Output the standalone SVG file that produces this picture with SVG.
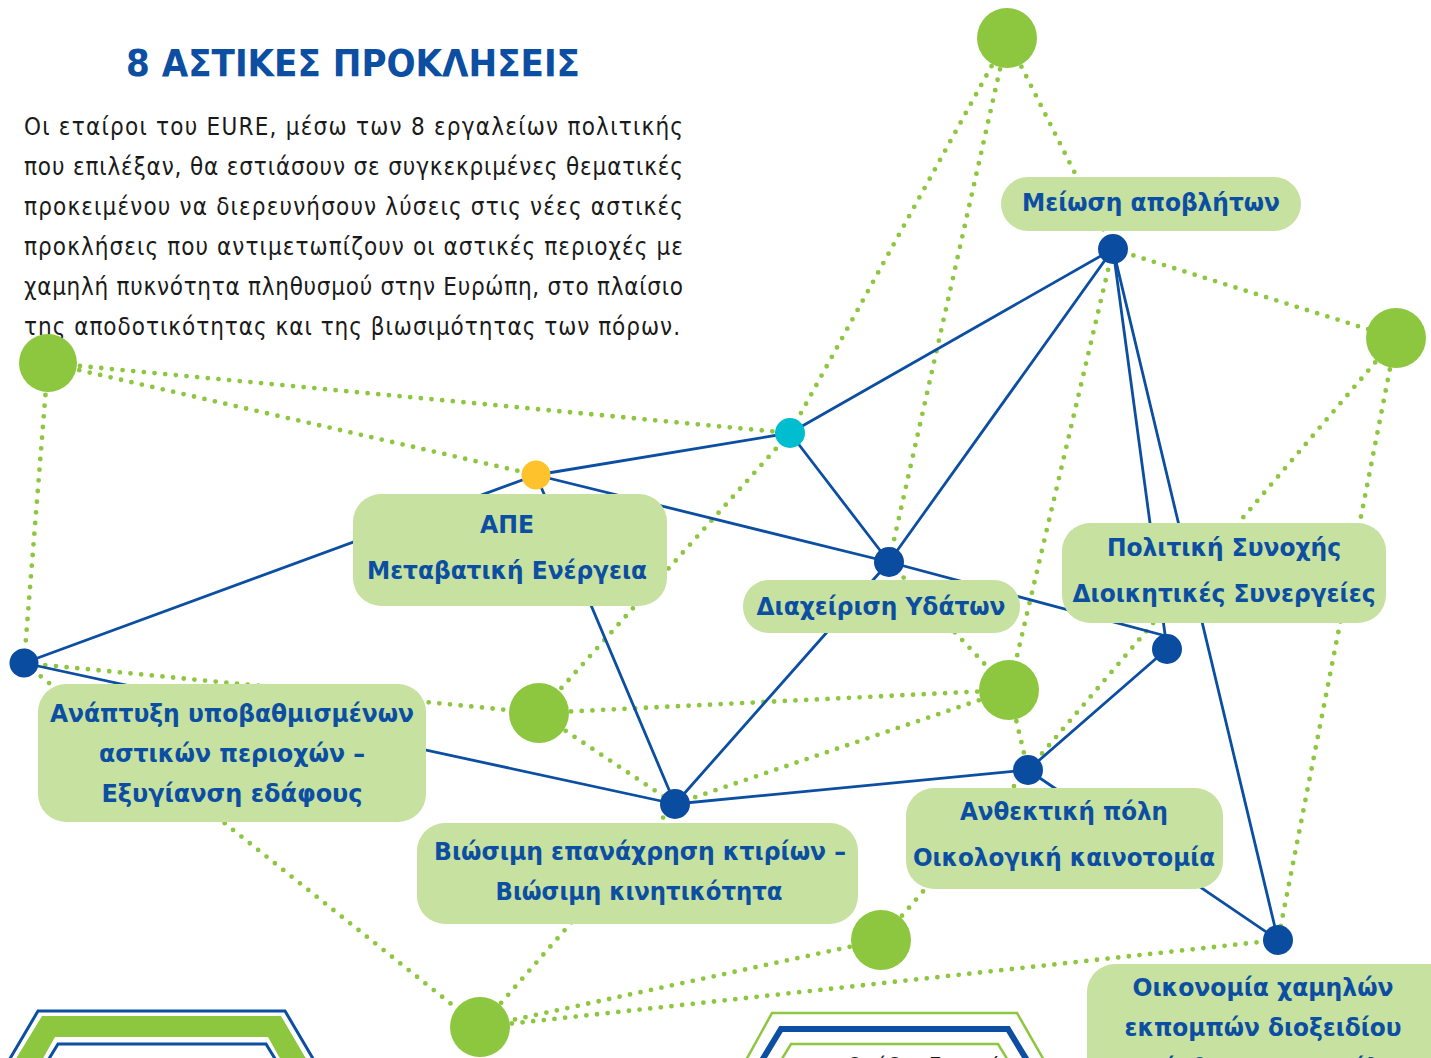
<svg xmlns="http://www.w3.org/2000/svg" width="1431" height="1058" viewBox="0 0 1431 1058">
<style>
  text { font-family: 'DejaVu Sans Condensed', 'DejaVu Sans', sans-serif; font-stretch: condensed; }
  .title { font-size: 37px; font-weight: bold; fill: #0b4ea2; }
  .para { font-size: 24px; fill: #1a1a1a; }
  .lbl { font-size: 24px; font-weight: bold; fill: #0b4ea2; text-anchor: middle; }
  .box { fill: #c6e1a0; }
  .solid line { stroke: #0b4ea2; stroke-width: 2.8; stroke-linecap: round; }
  .dots line { stroke: #8dc63f; stroke-width: 4.8; stroke-linecap: round; stroke-dasharray: 0 10.7; }
  .hub { fill: #0a4ca0; }
  .big { fill: #8dc63f; }
</style>
<rect width="1431" height="1058" fill="#ffffff"/>

<g id="title-block">
  <text class="title" x="126" y="76" textLength="454" lengthAdjust="spacingAndGlyphs">8 ΑΣΤΙΚΕΣ ΠΡΟΚΛΗΣΕΙΣ</text>
  <text class="para" x="24" y="135" textLength="659" lengthAdjust="spacing">Οι εταίροι του EURE, μέσω των 8 εργαλείων πολιτικής</text>
  <text class="para" x="24" y="175" textLength="659" lengthAdjust="spacing">που επιλέξαν, θα εστιάσουν σε συγκεκριμένες θεματικές</text>
  <text class="para" x="24" y="215" textLength="659" lengthAdjust="spacing">προκειμένου να διερευνήσουν λύσεις στις νέες αστικές</text>
  <text class="para" x="24" y="255" textLength="659" lengthAdjust="spacing">προκλήσεις που αντιμετωπίζουν οι αστικές περιοχές με</text>
  <text class="para" x="24" y="295" textLength="659" lengthAdjust="spacing">χαμηλή πυκνότητα πληθυσμού στην Ευρώπη, στο πλαίσιο</text>
  <text class="para" x="24" y="335" textLength="656" lengthAdjust="spacing">της αποδοτικότητας και της βιωσιμότητας των πόρων.</text>
</g>

<g id="hexagons">
  <g id="hex-left">
    <polyline points="8,1062 38,1011 285,1011 315,1062" fill="none" stroke="#0b4ea2" stroke-width="3"/>
    <path d="M14,1062 L42,1016 L281,1016 L308,1062 L282,1062 L268,1037 L55,1037 L41,1062 Z" fill="#8dc63f"/>
    <polyline points="47,1062 58,1044 266,1044 277,1062" fill="none" stroke="#0b4ea2" stroke-width="3"/>
  </g>
  <g id="hex-middle">
    <polyline points="745,1062 772,1013 1017,1013 1045,1062" fill="none" stroke="#8dc63f" stroke-width="2.5"/>
    <polyline points="761,1062 781,1029 1008,1029 1028,1062" fill="none" stroke="#0b4ea2" stroke-width="6"/>
    <polyline points="780,1062 791,1044 998,1044 1009,1062" fill="none" stroke="#8dc63f" stroke-width="2.5"/>
    <text x="847" y="1073" style="font-size:22px; fill:#1a1a1a;">Ομάδες Εργασίας</text>
  </g>
</g>

<g id="connectors">
  <g class="dots">
    <line x1="1007" y1="38" x2="790" y2="433"/>
    <line x1="1007" y1="38" x2="889" y2="562"/>
    <line x1="1007" y1="38" x2="1113" y2="249"/>
    <line x1="1113" y1="249" x2="1396" y2="338"/>
    <line x1="1113" y1="249" x2="1009" y2="690"/>
    <line x1="889" y1="562" x2="1009" y2="690"/>
    <line x1="1009" y1="690" x2="1028" y2="770"/>
    <line x1="1396" y1="338" x2="1028" y2="770"/>
    <line x1="1396" y1="338" x2="1278" y2="940"/>
    <line x1="48" y1="363" x2="790" y2="433"/>
    <line x1="48" y1="363" x2="536" y2="475"/>
    <line x1="48" y1="363" x2="24" y2="663"/>
    <line x1="24" y1="663" x2="539" y2="713"/>
    <line x1="24" y1="663" x2="480" y2="1027"/>
    <line x1="790" y1="433" x2="539" y2="713"/>
    <line x1="539" y1="713" x2="1009" y2="690"/>
    <line x1="539" y1="713" x2="675" y2="804"/>
    <line x1="675" y1="804" x2="1009" y2="690"/>
    <line x1="881" y1="940" x2="1028" y2="770"/>
    <line x1="881" y1="940" x2="480" y2="1027"/>
    <line x1="480" y1="1027" x2="1278" y2="940"/>
    <line x1="480" y1="1027" x2="675" y2="804"/>
  </g>
  <g class="solid">
    <line x1="536" y1="475" x2="790" y2="433"/>
    <line x1="790" y1="433" x2="1113" y2="249"/>
    <line x1="790" y1="433" x2="889" y2="562"/>
    <line x1="536" y1="475" x2="889" y2="562"/>
    <line x1="889" y1="562" x2="1166" y2="636"/>
    <line x1="1113" y1="249" x2="889" y2="562"/>
    <line x1="1113" y1="249" x2="1167" y2="649"/>
    <line x1="1113" y1="249" x2="1278" y2="940"/>
    <line x1="24" y1="663" x2="536" y2="475"/>
    <line x1="536" y1="475" x2="675" y2="804"/>
    <line x1="24" y1="663" x2="675" y2="804"/>
    <line x1="675" y1="804" x2="1028" y2="770"/>
    <line x1="675" y1="804" x2="889" y2="562"/>
    <line x1="1028" y1="770" x2="1167" y2="649"/>
    <line x1="1028" y1="770" x2="1278" y2="940"/>
  </g>
</g>

<g id="node-meiosi">
  <rect class="box" x="1001" y="177" width="300" height="54" rx="27"/>
  <text class="lbl" x="1151" y="211" textLength="258" lengthAdjust="spacingAndGlyphs">Μείωση αποβλήτων</text>
</g>
<g id="node-ape">
  <rect class="box" x="353" y="494" width="314" height="112" rx="28"/>
  <text class="lbl" x="507" y="533" textLength="54" lengthAdjust="spacingAndGlyphs">ΑΠΕ</text>
  <text class="lbl" x="507" y="579" textLength="280" lengthAdjust="spacingAndGlyphs">Μεταβατική Ενέργεια</text>
</g>
<g id="node-ydata">
  <rect class="box" x="743" y="580" width="277" height="53" rx="26"/>
  <text class="lbl" x="881" y="615" textLength="249" lengthAdjust="spacingAndGlyphs">Διαχείριση Υδάτων</text>
</g>
<g id="node-synoxi">
  <rect class="box" x="1062" y="523" width="324" height="100" rx="28"/>
  <text class="lbl" x="1224" y="556" textLength="234" lengthAdjust="spacingAndGlyphs">Πολιτική Συνοχής</text>
  <text class="lbl" x="1224" y="602" textLength="303" lengthAdjust="spacingAndGlyphs">Διοικητικές Συνεργείες</text>
</g>
<g id="node-anaptyxi">
  <rect class="box" x="38" y="684" width="388" height="138" rx="28"/>
  <text class="lbl" x="232" y="722" textLength="364" lengthAdjust="spacingAndGlyphs">Ανάπτυξη υποβαθμισμένων</text>
  <text class="lbl" x="232" y="762" textLength="266" lengthAdjust="spacingAndGlyphs">αστικών περιοχών –</text>
  <text class="lbl" x="232" y="802" textLength="261" lengthAdjust="spacingAndGlyphs">Εξυγίανση εδάφους</text>
</g>
<g id="node-viosimi">
  <rect class="box" x="417" y="823" width="441" height="101" rx="28"/>
  <text class="lbl" x="640" y="860" textLength="412" lengthAdjust="spacingAndGlyphs">Βιώσιμη επανάχρηση κτιρίων –</text>
  <text class="lbl" x="639" y="900" textLength="287" lengthAdjust="spacingAndGlyphs">Βιώσιμη κινητικότητα</text>
</g>
<g id="node-anthektiki">
  <rect class="box" x="906" y="788" width="317" height="101" rx="28"/>
  <text class="lbl" x="1064" y="820" textLength="208" lengthAdjust="spacingAndGlyphs">Ανθεκτική πόλη</text>
  <text class="lbl" x="1064" y="866" textLength="302" lengthAdjust="spacingAndGlyphs">Οικολογική καινοτομία</text>
</g>
<g id="node-oikonomia">
  <rect class="box" x="1087" y="964" width="370" height="120" rx="28"/>
  <text class="lbl" x="1263" y="996" textLength="261" lengthAdjust="spacingAndGlyphs">Οικονομία χαμηλών</text>
  <text class="lbl" x="1263" y="1036" textLength="277" lengthAdjust="spacingAndGlyphs">εκπομπών διοξειδίου</text>
  <text class="lbl" x="1263" y="1076">του άνθρακα στις Πόλεις</text>
</g>

<g id="circle-g1"><circle class="big" cx="1007" cy="38" r="30"/></g>
<g id="circle-g2"><circle class="big" cx="1396" cy="338" r="30"/></g>
<g id="circle-g3"><circle class="big" cx="48" cy="363" r="29"/></g>
<g id="circle-g4"><circle class="big" cx="539" cy="713" r="30"/></g>
<g id="circle-g5"><circle class="big" cx="1009" cy="690" r="30"/></g>
<g id="circle-g6"><circle class="big" cx="881" cy="940" r="30"/></g>
<g id="circle-g7"><circle class="big" cx="480" cy="1027" r="30"/></g>
<g id="circle-yellow"><circle cx="536" cy="475" r="14.5" fill="#fec22c"/></g>
<g id="circle-cyan"><circle cx="790" cy="433" r="15" fill="#00bdd0"/></g>
<g id="hub-b1"><circle class="hub" cx="1113" cy="249" r="15"/></g>
<g id="hub-b2"><circle class="hub" cx="889" cy="562" r="15"/></g>
<g id="hub-b3"><circle class="hub" cx="24" cy="663" r="14.5"/></g>
<g id="hub-b4"><circle class="hub" cx="1167" cy="649" r="15"/></g>
<g id="hub-b5"><circle class="hub" cx="675" cy="804" r="15"/></g>
<g id="hub-b6"><circle class="hub" cx="1028" cy="770" r="15"/></g>
<g id="hub-b7"><circle class="hub" cx="1278" cy="940" r="15"/></g>
</svg>
